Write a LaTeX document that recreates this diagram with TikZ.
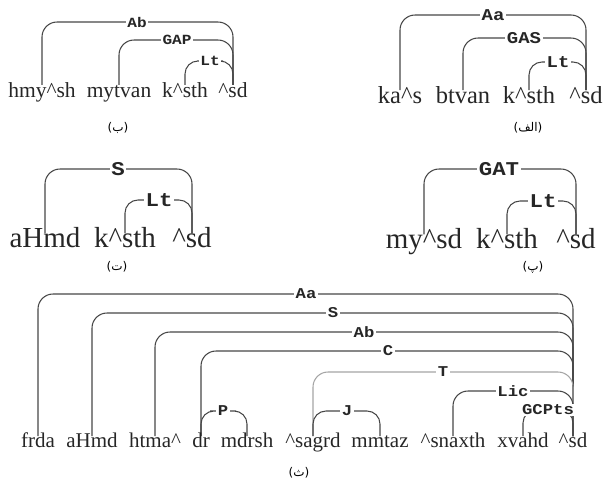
\documentclass[tikz,border=0pt]{standalone}
\usepackage{fontspec}
\setmainfont{Liberation Serif}
\newfontfamily\lblfont[FakeStretch=1.15]{Liberation Mono}
\newfontfamily\arabicfont[Script=Arabic]{DejaVu Sans}
\newfontfamily\parenfont{DejaVu Sans}
\TeXXeTstate=1
\pgfdeclarelayer{bg}
\pgfsetlayers{bg,main}
\definecolor{linec}{RGB}{70,70,70}
\definecolor{fainte}{RGB}{165,165,165}
\newcommand{\pcap}[1]{{\parenfont(}{\arabicfont\beginR #1\endR}{\parenfont)}}
\tikzset{
  wd/.style={anchor=base, inner xsep=0pt, text height=0.7em, text depth=0.22em, text=black!85},
  wA/.style={wd, font=\fontsize{21.5}{24}\selectfont, inner ysep=5pt},
  wB/.style={wd, font=\fontsize{24.5}{28}\selectfont, inner ysep=5.8pt},
  wC/.style={wd, font=\fontsize{29}{32}\selectfont, inner ysep=6.4pt},
  wD/.style={wd, font=\fontsize{21}{24}\selectfont, inner ysep=3.8pt},
  lb/.style={fill=white, inner xsep=1.5pt, inner ysep=0.5pt, text=black!85},
  lA/.style={lb, font=\lblfont\bfseries\fontsize{14}{16}\selectfont},
  lB/.style={lb, font=\lblfont\bfseries\fontsize{16.5}{18}\selectfont},
  lC/.style={lb, font=\lblfont\bfseries\fontsize{19.5}{21}\selectfont},
  lD/.style={lb, font=\lblfont\bfseries\fontsize{15}{17}\selectfont},
  capt/.style={font=\fontsize{12}{14}\selectfont, inner sep=0pt},
  arcl/.style={draw=linec, line width=1.05pt, rounded corners=15pt},
  arcs/.style={draw=linec, line width=1.05pt, rounded corners=13pt},
}
\begin{document}
\begin{tikzpicture}[x=1pt,y=-1pt]
\useasboundingbox (0,0) rectangle (604,480);

% ---------- panel (ب) top-left ----------
\node[wA] (b1) at (42,97) {hmy\^{}sh};
\node[wA] (b2) at (119,97) {mytvan};
\node[wA] (b3) at (185,97) {k\^{}sth};
\node[wA] (b4) at (233,97) {\^{}sd};
\node[lA] (bAb) at (137,22) {Ab};
\node[lA] (bGAP) at (177,40) {GAP};
\node[lA] (bLt) at (210,61) {Lt};
\node[capt] (cb) at (118,128) {\pcap{ب}};

% ---------- panel (الف) top-right ----------
\node[wB] (a1) at (400,103) {ka\^{}s};
\node[wB] (a2) at (463,103) {btvan};
\node[wB] (a3) at (529,103) {k\^{}sth};
\node[wB] (a4) at (586,103) {\^{}sd};
\node[lB] (aAa) at (493,15) {Aa};
\node[lB] (aGAS) at (524,38) {GAS};
\node[lB] (aLt) at (558,62) {Lt};
\node[capt] (ca) at (528,128) {\pcap{الف}};

% ---------- panel (ت) middle-left ----------
\node[wC] (t1) at (45,247) {aHmd};
\node[wC] (t2) at (125,247) {k\^{}sth};
\node[wC] (t3) at (192,247) {\^{}sd};
\node[lC] (tS) at (118,169) {S};
\node[lC] (tLt) at (159,200) {Lt};
\node[capt] (ct) at (117,267) {\pcap{ت}};

% ---------- panel (پ) middle-right ----------
\node[wC] (p1) at (424,248) {my\^{}sd};
\node[wC] (p2) at (507,248) {k\^{}sth};
\node[wC] (p3) at (576,248) {\^{}sd};
\node[lC] (pGAT) at (499,169) {GAT};
\node[lC] (pLt) at (543,201) {Lt};
\node[capt] (cp) at (533,267) {\pcap{پ}};

% ---------- panel (ث) bottom ----------
\node[wD] (s1) at (38,447) {frda};
\node[wD] (s2) at (92,447) {aHmd};
\node[wD] (s3) at (155,447) {htma\^{}};
\node[wD] (s4) at (201,447) {dr};
\node[wD] (s5) at (247,447) {mdrsh};
\node[wD] (s6) at (313,447) {\^{}sagrd};
\node[wD] (s7) at (380,447) {mmtaz};
\node[wD] (s8) at (453,447) {\^{}snaxth};
\node[wD] (s9) at (523,447) {xvahd};
\node[wD] (s10) at (573,447) {\^{}sd};
\node[lD] (sAa) at (306,294) {Aa};
\node[lD] (sS) at (333,313) {S};
\node[lD] (sAb) at (364,332) {Ab};
\node[lD] (sC) at (388,351) {C};
\node[lD] (sT) at (443,372) {T};
\node[lD] (sLic) at (513,391) {Lic};
\node[lD] (sGC) at (548,410) {GCPts};
\node[lD] (sP) at (223,411) {P};
\node[lD] (sJ) at (347,411) {J};
\node[capt] (cs) at (299,473) {\pcap{ث}};

\begin{pgfonlayer}{bg}
% (ب)
\draw[arcl] (b1.north) |- (bAb.center) -| (b4.north);
\draw[arcl] (b2.north) |- (bGAP.center) -| (b4.north);
\draw[arcs] (b3.north) |- (bLt.center) -| (b4.north);
% (الف)
\draw[arcl] (a1.north) |- (aAa.center) -| (a4.north);
\draw[arcl] (a2.north) |- (aGAS.center) -| (a4.north);
\draw[arcs] (a3.north) |- (aLt.center) -| (a4.north);
% (ت)
\draw[arcl] (t1.north) |- (tS.center) -| (t3.north);
\draw[arcs] (t2.north) |- (tLt.center) -| (t3.north);
% (پ)
\draw[arcl] (p1.north) |- (pGAT.center) -| (p3.north);
\draw[arcs] (p2.north) |- (pLt.center) -| (p3.north);
% (ث)
\draw[arcl] (s1.north) |- (sAa.center) -| (s10.north);
\draw[arcl] (s2.north) |- (sS.center) -| (s10.north);
\draw[arcl] (s3.north) |- (sAb.center) -| (s10.north);
\draw[arcl] (s4.north) |- (sC.center) -| (s10.north);
\draw[arcl, draw=fainte] (s6.north) |- (sT.center) -| (s10.north);
\draw[arcl] (s8.north) |- (sLic.center) -| (s10.north);
\draw[arcs] (s9.north) |- (sGC.center) -| (s10.north);
\draw[arcs] (s4.north) |- (sP.center) -| (s5.north);
\draw[arcs] (s6.north) |- (sJ.center) -| (s7.north);
\end{pgfonlayer}
\end{tikzpicture}
\end{document}
